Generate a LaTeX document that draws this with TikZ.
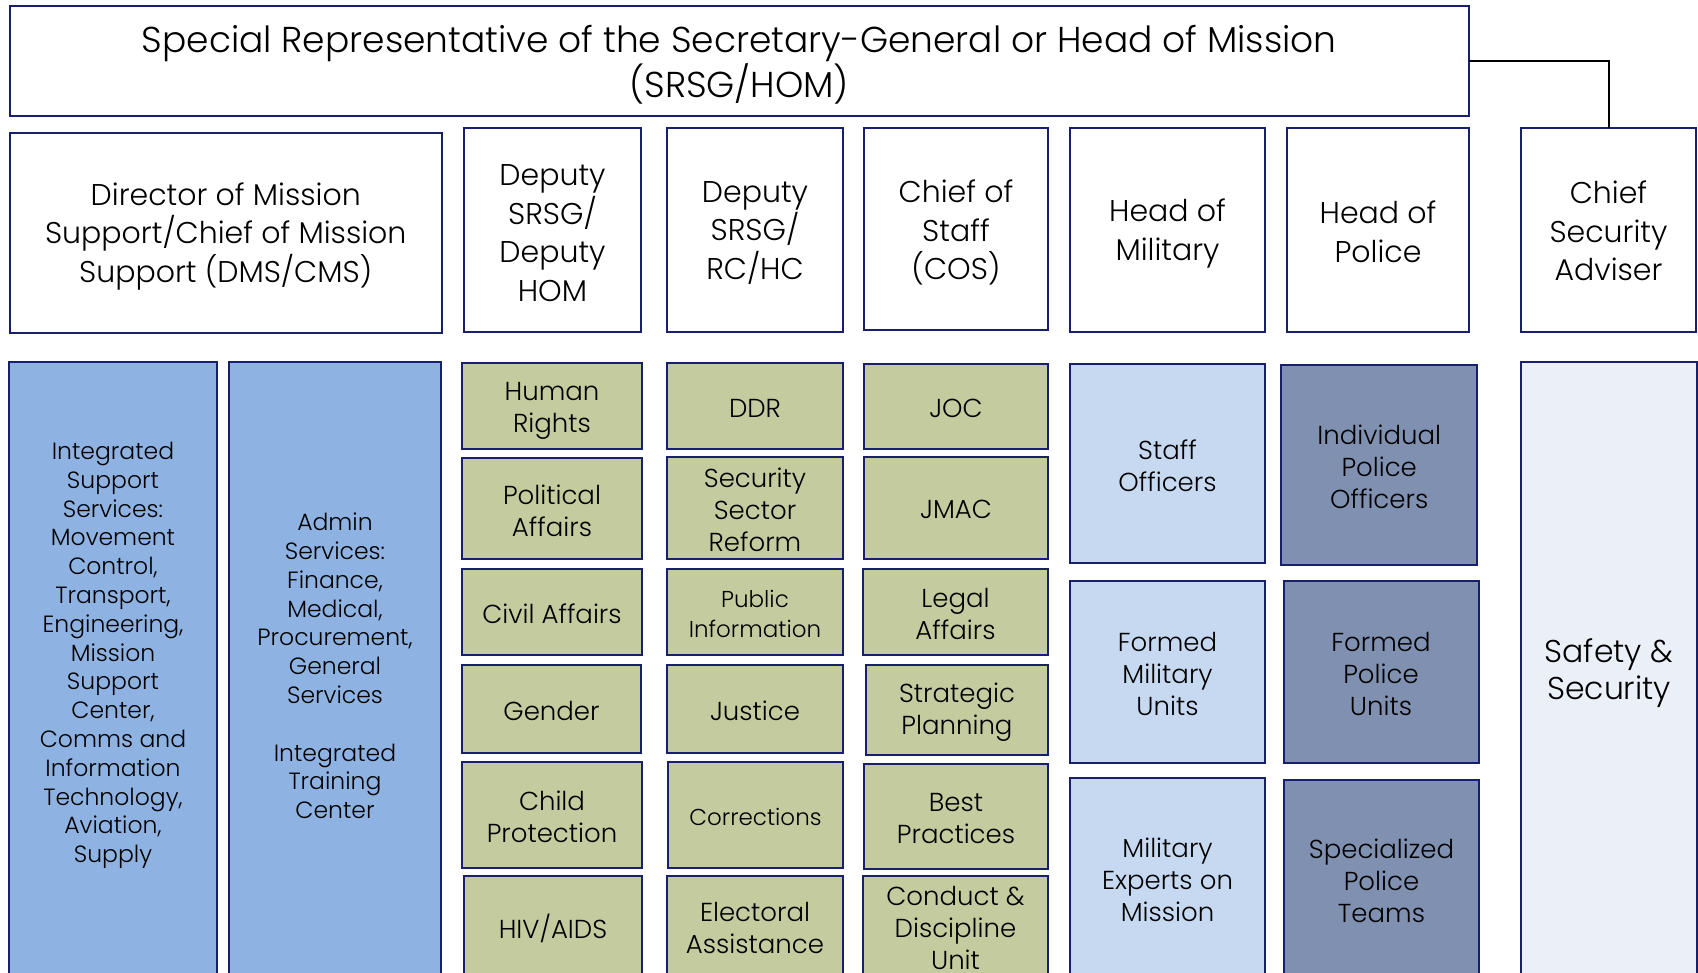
\documentclass[tikz,border=0pt]{standalone}
\usepackage{fontspec}
\setmainfont{Poppins Light}
\definecolor{navy}{RGB}{24,32,110}
\definecolor{olive}{RGB}{196,203,158}
\definecolor{milblue}{RGB}{198,217,241}
\definecolor{polslate}{RGB}{128,144,176}
\definecolor{paleblue}{RGB}{234,239,248}
\definecolor{supblue}{RGB}{142,178,225}
\newcommand\bx[8][2]{%
  \node[#7, minimum width={(#5)-(#3)}, minimum height={(#6)-(#4)}] (#2) at ({((#3)+(#5))/2},{((#4)+(#6))/2}) {};
  \node[#7, draw=none, fill=none, yshift=-#1pt] (#2t) at (#2.center) {#8};}
\begin{document}
\begin{tikzpicture}[x=1pt,y=-1pt,
  box/.style={draw=navy,line width=2pt,inner sep=0pt,outer sep=0pt,align=center,text=black},
  fT/.style={font=\fontsize{36}{45}\selectfont},
  fH/.style={font=\fontsize{30}{38.5}\selectfont},
  fS/.style={font=\fontsize{26}{32}\selectfont},
  fs/.style={font=\fontsize{23}{29.8}\selectfont},
  fB/.style={font=\fontsize{23.5}{28.8}\selectfont},
  fL/.style={font=\fontsize{31.5}{37.7}\selectfont},
  head/.style={box,fill=white,fH},
  ol/.style={box,fill=olive,fS},
  mi/.style={box,fill=milblue,fS},
  po/.style={box,fill=polslate,fS},
  conn/.style={draw=black,line width=2pt}]
\useasboundingbox (0,0) rectangle (1698,973);
\clip (0,0) rectangle (1698,973);
% top
\bx[3.5]{srsg}{9.5}{6.5}{1469}{116}{box,fill=white,fT}{Special Representative of the Secretary-General or Head of Mission\\(SRSG/HOM)}
% row 2
\bx[3.5]{dms}{9.5}{133}{442}{333}{head}{Director of Mission\\Support/Chief of Mission\\Support (DMS/CMS)}
\bx[3]{dep1}{464}{128}{641}{332}{head}{Deputy\\SRSG/\\Deputy\\HOM}
\bx[3]{dep2}{667}{128}{843}{332}{head}{Deputy\\SRSG/\\RC/HC}
\bx[3.5]{cos}{864}{128}{1048}{330}{head}{Chief of\\Staff\\(COS)}
\bx[3.5]{mil}{1070}{128}{1265}{332}{head}{Head of\\Military}
\bx[2]{pol}{1287}{128}{1469}{332}{head}{Head of\\Police}
\bx[1]{csa}{1521}{128}{1696}{332}{head}{Chief\\Security\\Adviser}
\draw[conn] (srsg.east) -| (csa.north);
% support columns
\bx{isc}{9.3}{362}{217}{1000}{box,fill=supblue}{}
\node[align=center,fB] (isct) at (113,655.5) {Integrated\\Support\\Services:\\Movement\\Control,\\Transport,\\Engineering,\\Mission\\Support\\Center,\\Comms and\\Information\\Technology,\\Aviation,\\Supply};
\bx{adm}{229}{362}{441}{1000}{box,fill=supblue}{}
\node[align=center,fB] (admt) at (335,665.9) {Admin\\Services:\\Finance,\\Medical,\\Procurement,\\General\\Services\\[28.8pt]Integrated\\Training\\Center};
% deputy HOM column
\bx[5]{hr}{462}{363}{642}{449}{ol}{Human\\Rights}
\bx{pa}{462}{457.7}{642}{559.4}{ol}{Political\\Affairs}
\bx{ca}{462}{569}{642}{654.7}{ol}{Civil Affairs}
\bx{gen}{462}{664.7}{641}{753.3}{ol}{Gender}
\bx{cp}{462}{762.4}{642}{867.7}{ol}{Child\\Protection}
\bx{hiv}{464}{876.4}{642}{976}{ol}{HIV/AIDS}
% RC/HC column
\bx{ddr}{667}{363}{843}{449}{ol}{DDR}
\bx{ssr}{667}{457}{843}{558.6}{ol}{Security\\Sector\\Reform}
\bx{pi}{667}{569}{843}{654.7}{ol,fs}{Public\\Information}
\bx{jus}{667}{665}{843}{753.3}{ol}{Justice}
\bx{cor}{668}{762.4}{843}{867.7}{ol,fs}{Corrections}
\bx{ea}{667}{876.4}{843}{976}{ol}{Electoral\\Assistance}
% COS column
\bx{joc}{864}{364}{1048}{449}{ol}{JOC}
\bx{jmac}{864}{457}{1048}{558.6}{ol}{JMAC}
\bx{la}{863}{569}{1048}{654.7}{ol}{Legal\\Affairs}
\bx{sp}{866}{664.7}{1048}{755.2}{ol}{Strategic\\Planning}
\bx{bp}{864}{763.6}{1048}{868.9}{ol}{Best\\Practices}
\bx{cdu}{863}{876.4}{1048}{976}{ol}{Conduct \&\\Discipline\\Unit}
% military
\bx{so}{1070}{364}{1265}{563.3}{mi}{Staff\\Officers}
\bx{fmu}{1070}{581.2}{1265}{763.2}{mi}{Formed\\Military\\Units}
\bx{mem}{1070}{778.3}{1265}{978}{mi}{Military\\Experts on\\Mission}
% police
\bx{ipo}{1281.4}{364.7}{1477}{565}{po}{Individual\\Police\\Officers}
\bx{fpu}{1283.5}{581.2}{1478.5}{763.2}{po}{Formed\\Police\\Units}
\bx{spt}{1284}{780}{1479}{978}{po}{Specialized\\Police\\Teams}
% safety
\bx{ss}{1521}{362}{1697}{1000}{box,fill=paleblue}{}
\node[align=center,fL] (sst) at (1609,673) {Safety \&\\Security};
\end{tikzpicture}
\end{document}
